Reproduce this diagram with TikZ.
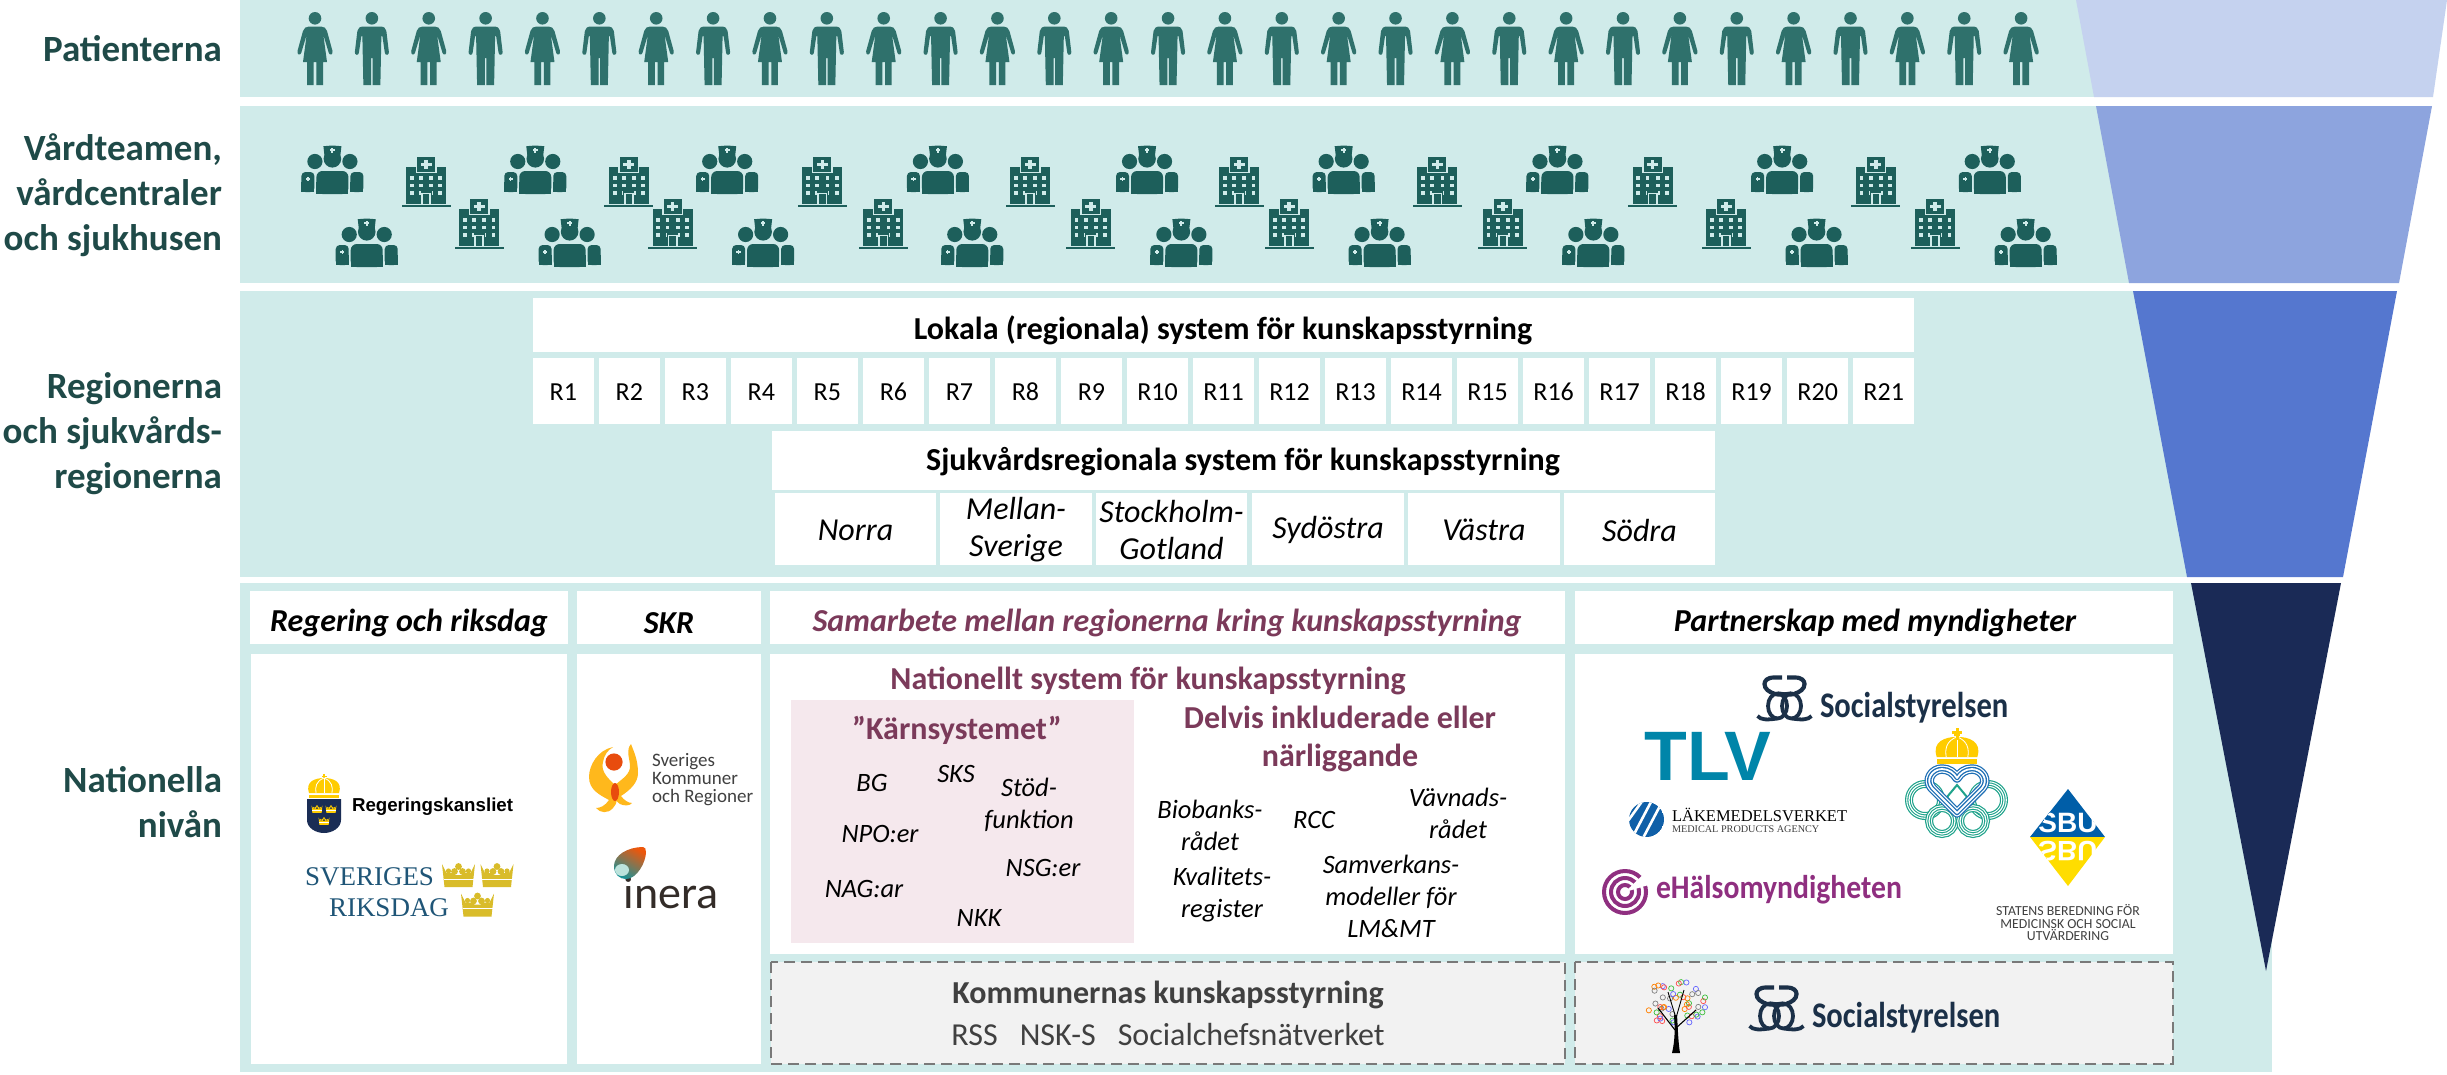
\documentclass[tikz,border=0pt]{standalone}
\usepackage{fontspec}
\setmainfont{Carlito}
\newfontfamily\libsans{Liberation Sans}
\newfontfamily\libserif{Liberation Serif}
\definecolor{bandc}{HTML}{D0EBEA}
\definecolor{fa}{HTML}{C5D2EF}
\definecolor{fb}{HTML}{8DA4DE}
\definecolor{fc}{HTML}{5577CF}
\definecolor{fd}{HTML}{1A2A56}
\definecolor{lab}{HTML}{1F4A48}
\definecolor{maroon}{HTML}{7B3A5A}
\definecolor{iconc}{HTML}{1D5F5B}
\definecolor{persc}{HTML}{2F716C}
\definecolor{pinkc}{HTML}{F5E8ED}
\definecolor{grayf}{HTML}{F2F2F2}
\definecolor{grayt}{HTML}{404040}
\definecolor{navy}{HTML}{1A2D55}
\definecolor{gold}{HTML}{FFCC00}
\definecolor{rgold}{HTML}{D9BC2A}
\definecolor{rblue}{HTML}{1F5577}
\definecolor{sosc}{HTML}{1B3048}
\definecolor{tlvc}{HTML}{0085A9}
\definecolor{lvc}{HTML}{1060A8}
\definecolor{hblue}{HTML}{1E6FB5}
\definecolor{hgreen}{HTML}{1FA38B}
\definecolor{ehm}{HTML}{8F2F80}
\definecolor{sbub}{HTML}{005EA8}
\definecolor{sbuy}{HTML}{FFDD00}
\definecolor{skry}{HTML}{FFB81C}
\definecolor{skrr}{HTML}{E84C0E}
\definecolor{inerat}{HTML}{332C28}
\tikzset{
 txt/.style={inner sep=0pt,outer sep=0pt,align=center},
 side/.style={txt,align=right,anchor=east,text=lab,font=\fontsize{37}{45}\selectfont\bfseries},
 head/.style={txt,font=\fontsize{32}{38}\selectfont\bfseries},
 rtxt/.style={txt,font=\fontsize{26}{31}\selectfont},
 ortxt/.style={txt,font=\fontsize{32}{37}\selectfont\itshape},
 chead/.style={txt,font=\fontsize{32}{38}\selectfont\bfseries\itshape},
 mhead/.style={txt,text=maroon,font=\fontsize{32}{38}\selectfont\bfseries},
 item/.style={txt,font=\fontsize{26.5}{32}\selectfont\itshape},
 dashbox/.style={fill=grayf,draw=gray!95!black,line width=2.2pt,dash pattern=on 11pt off 6pt},
 woman/.pic={
  \fill[persc] (0,6.3) circle (6.3);
  \fill[persc] (-6,14.5) -- (6,14.5) .. controls (9,14.5) and (11,16) .. (12,19) -- (17.5,39) .. controls (18.3,42.5) and (15,44) .. (13.8,41) -- (8.7,24) -- (8.5,24) -- (12,50) -- (8,50) -- (8,73) -- (1.3,73) -- (1.3,50) -- (-1.3,50) -- (-1.3,73) -- (-8,73) -- (-8,50) -- (-12,50) -- (-8.5,24) -- (-8.7,24) -- (-13.8,41) .. controls (-15,44) and (-18.3,42.5) .. (-17.5,39) -- (-12,19) .. controls (-11,16) and (-9,14.5) .. (-6,14.5) -- cycle;
 },
 man/.pic={
  \fill[persc] (0,6.3) circle (6.3);
  \fill[persc] (-8,14.5) -- (8,14.5) .. controls (12,14.5) and (14,16) .. (14.5,19) -- (17,40) .. controls (17.5,43) and (13.5,44) .. (13,41) -- (10.5,24) -- (9.5,24) -- (8.5,73) -- (0.8,73) -- (0.8,46) -- (-0.8,46) -- (-0.8,73) -- (-8.5,73) -- (-9.5,24) -- (-10.5,24) -- (-13,41) .. controls (-13.5,44) and (-17.5,43) .. (-17,40) -- (-14.5,19) .. controls (-14,16) and (-12,14.5) .. (-8,14.5) -- cycle;
 },
 team/.pic={
  \fill[iconc] (0,-11.2) circle (8.8);
  \fill[iconc] (-9,-23.8) -- (0,-24.5) -- (9,-23.8) -- (8,-15) -- (-8,-15) -- cycle;
  \fill[bandc] (-1,-22) rectangle (1,-17.5);
  \fill[bandc] (-2.3,-20.7) rectangle (2.3,-18.8);
  \fill[iconc] (-17.5,-8.5) circle (7.6);
  \fill[iconc] (17.5,-8.5) circle (7.6);
  \fill[iconc,rounded corners=4pt] (-31,22) -- (-31,2) -- (-18,2) -- (-18,22) -- cycle;
  \fill[iconc,rounded corners=4pt] (31,22) -- (31,2) -- (18,2) -- (18,22) -- cycle;
  \fill[iconc] (-31,12) rectangle (-18,22);
  \fill[iconc] (31,12) rectangle (18,22);
  \fill[iconc,rounded corners=6pt] (-16,24) -- (-16,1) -- (16,1) -- (16,24) -- cycle;
  \fill[iconc] (-16,12) rectangle (16,24);
  \fill[bandc] (-25.2,6.5) rectangle (-23.8,11);
  \fill[bandc] (-26.7,8) rectangle (-22.3,9.5);
 },
 hospital/.pic={
  \fill[iconc] (-20,-15) rectangle (20,21.7);
  \fill[bandc] (-10.5,-26) rectangle (10.5,-9);
  \fill[iconc] (-9,-25) rectangle (9,-10.5);
  \fill[bandc] (-1.8,-22.5) rectangle (1.8,-13);
  \fill[bandc] (-5.5,-19.5) rectangle (5.5,-16);
  \foreach \wy in {-4,3.5,11}{\foreach \wx in {-14.3,-5.1,5.1,14.3}{
    \fill[bandc] (\wx-1.9,\wy-1.8) rectangle (\wx+1.9,\wy+1.8);}}
  \fill[iconc] (-5.5,8.5) rectangle (5.5,21.7);
  \fill[bandc] (-5,10.5) rectangle (5,21.7);
  \fill[iconc] (-3.2,12.2) rectangle (3.2,21.7);
  \fill[iconc] (-24.5,23.2) rectangle (24.5,25);
 },
 kcrown/.pic={
  \fill (-16.5,-11) -- (-14,12) -- (14,12) -- (16.5,-11) -- (12,-2) -- (6,-2) -- (3,0) -- (-3,0) -- (-6,-2) -- (-12,-2) -- cycle;
  \fill (0,-8.5) circle (3.4);
  \fill (-4,-3.5) circle (3.4);
  \fill (4,-3.5) circle (3.4);
  \fill (-10,-4) circle (2.6);
  \fill (10,-4) circle (2.6);
  \fill[white] (-15,3.5) rectangle (15,4.3);
 },
 dome/.pic={
  \fill (-15,6) .. controls (-19,-6) and (-8,-9) .. (0,-9) .. controls (8,-9) and (19,-6) .. (15,6) -- cycle;
  \fill (-15,7.5) rectangle (15,11);
  \fill (-1,-13) rectangle (1,-8);
  \fill (-2.5,-11.5) rectangle (2.5,-10);
  \draw[white,line width=.8pt] (0,-9) -- (0,6);
  \draw[white,line width=.8pt] (0,-9) .. controls (-8,-6) and (-9,0) .. (-8,6);
  \draw[white,line width=.8pt] (0,-9) .. controls (8,-6) and (9,0) .. (8,6);
 },
 sosmark/.pic={
  \draw[sosc,line width=3.8pt] (20.5,32) ellipse (9.5 and 12.5);
  \draw[sosc,line width=3.8pt] (34.5,32) ellipse (9.5 and 12.5);
  \draw[sosc,line width=4.2pt] (25,3.5) -- (17,3.5) .. controls (10,3.5) and (7.5,7) .. (7.5,10) .. controls (7.5,15) and (12,18) .. (18,20) .. controls (23,21.5) and (30,20) .. (34,19.5);
  \draw[sosc,line width=4.2pt] (30,3.5) -- (38,3.5) .. controls (45,3.5) and (47.5,7) .. (47.5,10) .. controls (47.5,15) and (43,18) .. (37,20) .. controls (32,21.5) and (25,20) .. (21,19.5);
  \draw[sosc,line width=3.8pt] (0.5,42) .. controls (4,46) and (10,46) .. (20,44.5);
  \draw[sosc,line width=3.8pt] (54.5,42) .. controls (51,46) and (45,46) .. (35,44.5);
 },
}
\begin{document}
\begin{tikzpicture}[x=1pt,y=-1pt]
\useasboundingbox (0,0) rectangle (2447,1074);
\fill[white] (0,0) rectangle (2447,1074);
% bands
\fill[bandc] (240,0) rectangle (2272,97);
\fill[bandc] (240,106) rectangle (2272,283);
\fill[bandc] (240,291) rectangle (2272,577);
\fill[bandc] (240,583) rectangle (2272,1072);
% funnel
\fill[fa] (2076,0) -- (2447,0) -- (2433,97) -- (2094,97) -- cycle;
\fill[fb] (2096,106) -- (2432,106) -- (2399,283) -- (2129,283) -- cycle;
\fill[fc] (2133,291) -- (2397,291) -- (2343,577) -- (2187,577) -- cycle;
\fill[fd] (2191,583) -- (2341,583) -- (2266,971) -- cycle;
% side labels
\node[side] (lpat) at (222,49) {Patienterna};
\node[side] (lvard) at (222,195) {Vårdteamen,\\vårdcentraler\\och sjukhusen};
\node[side] (lreg) at (222,434) {Regionerna\\och sjukvårds-\\regionerna};
\node[side] (lnat) at (222,802) {Nationella\\nivån};
% people
\foreach \i in {0,...,30}{
  \pgfmathsetmacro{\px}{315+56.87*\i}
  \ifodd\i \pic at (\px,12) {man}; \else \pic at (\px,12) {woman}; \fi
}
% care teams and hospitals
\foreach \mx in {213,343,466,601,735,861,998,1142,1275}{\pic at ({\mx*1.5606},170) {team};}
\foreach \mx in {235,365,489,623,757,884,1021,1164,1298}{\pic at ({\mx*1.5606},243) {team};}
\foreach \mx in {273,403,527,660,794,921,1059,1202}{\pic at ({\mx*1.5606},182) {hospital};}
\foreach \mx in {307,431,566,699,826,963,1106,1240}{\pic at ({\mx*1.5606},224) {hospital};}
% regional level
\fill[white] (533,298) rectangle (1914,352);
\node[head] (lok) at (1223,330) {Lokala (regionala) system för kunskapsstyrning};
\foreach \i in {1,...,21}{
  \pgfmathsetmacro{\rx}{533+66.02*(\i-1)}
  \fill[white] (\rx,358) rectangle ({\rx+60.6},424);
  \node[rtxt] (r\i) at ({\rx+30.3},392) {R\i};
}
\fill[white] (772,431) rectangle (1715,490);
\node[head] (sjuk) at (1243,462) {Sjukvårdsregionala system för kunskapsstyrning};
\fill[white] (775,493) rectangle (936,565);
\fill[white] (940,493) rectangle (1092,565);
\fill[white] (1096,493) rectangle (1247,565);
\fill[white] (1252,493) rectangle (1404,565);
\fill[white] (1408,493) rectangle (1560,565);
\fill[white] (1564,493) rectangle (1715,565);
\node[ortxt] (norra) at (855.5,530) {Norra};
\node[ortxt] (mellan) at (1016,530) {Mellan-\\Sverige};
\node[ortxt] (sthlm) at (1171.5,530) {Stockholm-\\Gotland};
\node[ortxt] (syd) at (1328,530) {Sydöstra};
\node[ortxt] (vast) at (1484,530) {Västra};
\node[ortxt] (sodra) at (1639.5,530) {Södra};
% national headers
\fill[white] (250,591) rectangle (568,644);
\fill[white] (577,591) rectangle (761,644);
\fill[white] (770,591) rectangle (1565,644);
\fill[white] (1575,591) rectangle (2173,644);
\node[chead] (hreg) at (409,623) {Regering och riksdag};
\node[chead] (hskr) at (669,623) {SKR};
\node[chead,text=maroon] (hsam) at (1167,623) {Samarbete mellan regionerna kring kunskapsstyrning};
\node[chead] (hpart) at (1875,623) {Partnerskap med myndigheter};
% content boxes
\fill[white] (251,654) rectangle (567,1064);
\fill[white] (577,654) rectangle (761,1064);
\fill[white] (770,654) rectangle (1565,954);
\fill[white] (1575,654) rectangle (2173,954);
\fill[pinkc] (791,700) rectangle (1134,943);
\draw[dashbox] (771,962) rectangle (1565,1064);
\draw[dashbox] (1575,962) rectangle (2173,1064);
% national system text
\node[mhead] (nat) at (1148,681) {Nationellt system för kunskapsstyrning};
\node[mhead] (karn) at (957,730) {”Kärnsystemet”};
\node[mhead] (delv) at (1340,739) {Delvis inkluderade eller\\närliggande};
\node[item] (i1) at (872,783) {BG};
\node[item] (i2) at (956,774) {SKS};
\node[item] (i3) at (1029,805) {Stöd-\\funktion};
\node[item] (i4) at (880,834) {NPO:er};
\node[item] (i5) at (1043,868) {NSG:er};
\node[item] (i6) at (864,889) {NAG:ar};
\node[item] (i7) at (979,918) {NKK};
\node[item] (i8) at (1210,825) {Biobanks-\\rådet};
\node[item] (i9) at (1314,820) {RCC};
\node[item] (i10) at (1458,813) {Vävnads-\\rådet};
\node[item] (i11) at (1222,895) {Kvalitets-\\register};
\node[item] (i12) at (1391,896) {Samverkans-\\modeller för\\LM\&MT};
\node[txt,text=grayt,font=\fontsize{32}{38}\selectfont\bfseries] (komm) at (1168,995) {Kommunernas kunskapsstyrning};
\node[txt,text=grayt,font=\fontsize{32}{38}\selectfont] (kommb) at (1168,1034) {RSS\hspace{22pt}NSK-S\hspace{22pt}Socialchefsnätverket};
% Regeringskansliet
\pic[gold] at (324,787) {dome};
\fill[navy] (307,799) -- (341,799) -- (341,820) .. controls (341,828) and (332,833) .. (324,833) .. controls (316,833) and (307,828) .. (307,820) -- cycle;
\pic[gold,scale=.33] at (317,809) {kcrown};
\pic[gold,scale=.33] at (331,809) {kcrown};
\pic[gold,scale=.33] at (324,821) {kcrown};
\node[txt,anchor=west,font=\fontsize{18.7}{22}\selectfont\libsans\bfseries] (regk) at (352,807) {Regeringskansliet};
% Riksdag
\node[txt,anchor=west,text=rblue,font=\fontsize{27}{30}\selectfont\libserif] (rik1) at (305,877) {SVERIGES};
\node[txt,anchor=west,text=rblue,font=\fontsize{27}{30}\selectfont\libserif] (rik2) at (329,908) {RIKSDAG};
\pic[rgold,scale=1] at (458.5,875) {kcrown};
\pic[rgold,scale=1] at (497,875) {kcrown};
\pic[rgold,scale=1] at (477.5,904.5) {kcrown};
% SKR logo
\fill[skry] (613,747) .. controls (598,750) and (589,765) .. (589,777) .. controls (589,790) and (600,795) .. (609,800) .. controls (605,806) and (600,808) .. (596,808) .. controls (600,813) and (608,814) .. (613,808) .. controls (618,803) and (618,797) .. (615,785) .. controls (610,780) and (600,772) .. (603,762) .. controls (604,755) and (608,750) .. (613,747) -- cycle;
\fill[skry] (631,744) .. controls (626,750) and (629,756) .. (630,765) .. controls (631,775) and (620,780) .. (614,786) .. controls (612,795) and (616,802) .. (620,804) .. controls (624,806) and (630,806) .. (632,803) .. controls (628,803) and (624,800) .. (621,796) .. controls (630,790) and (638,783) .. (638,773) .. controls (638,760) and (634,752) .. (631,744) -- cycle;
\fill[skrr] (614,762) circle (8.6);
\fill[skrr] (615,792) ellipse (4 and 9);
\node[txt,anchor=west,align=left,text=grayt,font=\fontsize{19}{18}\selectfont] (skrt) at (652,780) {Sveriges\\Kommuner\\och Regioner};
% Inera
\node[txt,text=inerat,font=\fontsize{46}{50}\selectfont] (inera) at (671,893) {inera};
\shade[shading=axis,left color=skrr!80!orange,right color=hgreen!90!blue,shading angle=-30] (643,847) .. controls (628,847) and (614,855) .. (614,866) .. controls (614,875) and (620,879) .. (626,879) .. controls (637,879) and (646,862) .. (646,852) .. controls (646,849) and (645,847) .. (643,847) -- cycle;
\fill[white!70!hgreen] (622,870) ellipse (7 and 6);
% Socialstyrelsen top
\pic at (1757,674) {sosmark};
\node[txt,anchor=west,xscale=.85,transform shape,text=sosc,font=\fontsize{36}{40}\selectfont\bfseries] (sos1) at (1820,708) {Socialstyrelsen};
% TLV
\node[txt,text=tlvc,font=\fontsize{70}{70}\selectfont\libsans\bfseries] (tlv) at (1708,756) {TLV};
% Lakemedelsverket
\begin{scope}
\clip (1646.5,819.5) circle (17.5);
\fill[lvc] (1646.5,819.5) circle (17.5);
\draw[white,line width=2.6pt] (1632,838) -- (1652,800);
\draw[white,line width=2.6pt] (1642,840) -- (1662,802);
\draw[white,line width=2.6pt] (1625,825) -- (1643,800);
\end{scope}
\node[txt,anchor=west,font=\fontsize{16.5}{20}\selectfont\libserif] (lv1) at (1672,815) {LÄKEMEDELSVERKET};
\node[txt,anchor=west,text=grayt,font=\fontsize{10.2}{14}\selectfont\libserif] (lv2) at (1672,829) {MEDICAL PRODUCTS AGENCY};
% Heart logo
\foreach \ca/\cb/\r in {1925/800/16,1988/800/16,1942/821/13,1973/821/13}{
 \draw[hgreen,line width=8pt] (\ca,\cb) circle (\r);
 \draw[white,line width=5.6pt] (\ca,\cb) circle (\r);
 \draw[hgreen,line width=3.4pt] (\ca,\cb) circle (\r);
 \draw[white,line width=1.2pt] (\ca,\cb) circle (\r);
}
\draw[hgreen,line width=2pt] (1957,785) -- (1947,797) -- (1957,809) -- (1967,797) -- cycle;
\foreach \w/\cc in {9.5/hblue,7/white,4.5/hblue,1.8/white}{
 \draw[\cc,line width=\w pt,line join=round] (1957,813) -- (1932,788) .. controls (1925,780) and (1932,769) .. (1942,769) .. controls (1949,769) and (1954,773) .. (1957,778) .. controls (1960,773) and (1965,769) .. (1972,769) .. controls (1982,769) and (1989,780) .. (1982,788) -- cycle;
}
\pic[gold,scale=1.35] at (1957,749) {dome};
\fill[gold] (1955.5,728) rectangle (1958.5,740);
\fill[gold] (1952,731) rectangle (1962,733.5);
% SBU
\begin{scope}
\clip (2068,789) -- (2105,837) -- (2068,886) -- (2030,837) -- cycle;
\fill[sbub] (2020,780) rectangle (2115,837);
\fill[sbuy] (2020,837) rectangle (2115,895);
\node[txt,text=white,font=\fontsize{28}{30}\selectfont\libsans\bfseries] (sbu1) at (2068,823) {SBU};
\node[txt,text=white,yscale=-1,transform shape,font=\fontsize{28}{30}\selectfont\libsans\bfseries] (sbu2) at (2068,851) {SBU};
\end{scope}
\node[txt,text=grayt,font=\fontsize{13.8}{12.5}\selectfont] (sbu3) at (2068,923) {STATENS BEREDNING FÖR\\MEDICINSK OCH SOCIAL\\UTVÄRDERING};
% eHalsomyndigheten
\foreach \r in {21,14,7}{\draw[ehm,line width=4pt] (1625,892) circle (\r);}
\fill[white] (1625,892) -- (1650,868) -- (1652,884) -- cycle;
\node[txt,anchor=west,xscale=.9,transform shape,text=ehm,font=\fontsize{33}{36}\selectfont\bfseries] (eh) at (1656,890) {eHälsomyndigheten};
% Tree
\pgfmathsetseed{7}
\foreach \i in {1,...,48}{
 \pgfmathsetmacro{\tang}{rnd*360}
 \pgfmathsetmacro{\trad}{sqrt(rnd)}
 \pgfmathtruncatemacro{\tk}{mod(\i,5)}
 \ifcase\tk\colorlet{tc}{gray}\or\colorlet{tc}{red!70!white}\or\colorlet{tc}{green!50!gray}\or\colorlet{tc}{blue!60!white}\or\colorlet{tc}{orange}\fi
 \draw[tc,line width=.7pt] ({1675+32*\trad*cos(\tang)},{1003+22*\trad*sin(\tang)}) circle (2.6);
}
\fill[black] (1672,1053) .. controls (1675,1040) and (1675,1030) .. (1674,1015) -- (1677,1015) .. controls (1678,1030) and (1678,1040) .. (1680,1053) -- cycle;
\draw[black,line width=1.1pt] (1675,1030) -- (1658,1008);
\draw[black,line width=1.1pt] (1676,1028) -- (1696,1010);
\draw[black,line width=.9pt] (1675,1015) -- (1668,992);
\draw[black,line width=.9pt] (1676,1018) -- (1684,990);
% Socialstyrelsen bottom
\pic at (1749,984) {sosmark};
\node[txt,anchor=west,xscale=.85,transform shape,text=sosc,font=\fontsize{36}{40}\selectfont\bfseries] (sos2) at (1812,1018) {Socialstyrelsen};
\end{tikzpicture}
\end{document}
